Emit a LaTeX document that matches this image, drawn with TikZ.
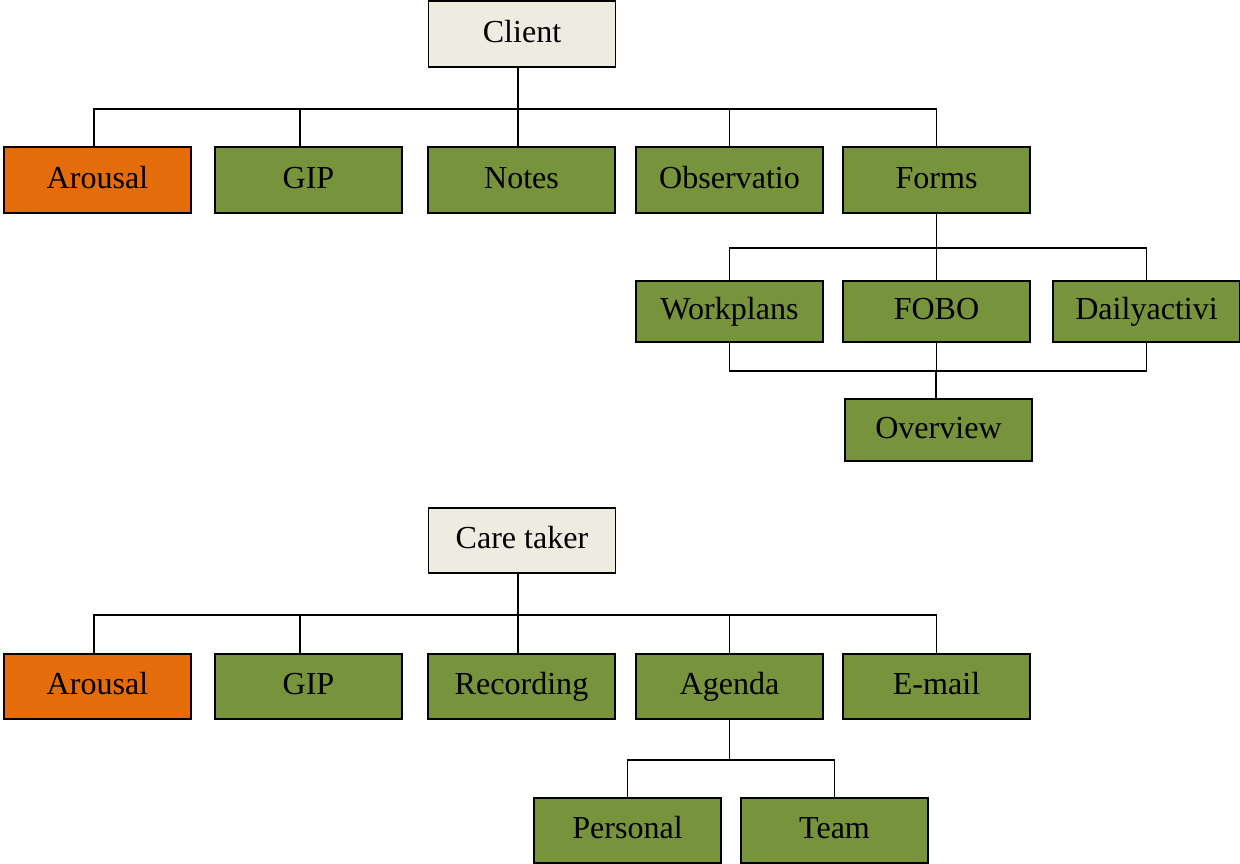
\documentclass[tikz,border=0pt]{standalone}
\usepackage{fontspec}
\setmainfont{Liberation Serif}
\usetikzlibrary{calc}
\definecolor{chgreen}{RGB}{119,147,60}
\definecolor{chorange}{RGB}{228,108,10}
\definecolor{chbeige}{RGB}{238,236,225}
\tikzstyle{chartbox} = [rectangle, minimum width=4.675cm, minimum height=1.63cm, inner sep=0pt, text height=0.56cm, text depth=0.14cm, text centered, draw=black, line width=1.3pt, font=\fontsize{22.8}{27}\selectfont]
\tikzstyle{topic} = [chartbox, fill=chbeige]
\tikzstyle{leaf} = [chartbox, fill=chgreen]
\tikzstyle{hot} = [chartbox, fill=chorange]
\tikzstyle{link} = [line width=1.3pt, line cap=rect, black]

\begin{document}
\begin{tikzpicture}[x=0.025cm, y=-0.025cm]
    \useasboundingbox (0,0) rectangle (1240,863);

    % Client
    \node[topic] (client) at (522,34) {Client};
    \node[hot] (arousal) at (97.5,180) {Arousal};
    \node[leaf] (gip) at (308.5,180) {GIP};
    \node[leaf] (notes) at (521.5,180) {Notes};
    \node[leaf] (obs) at (729.5,180) {Observatio};
    \node[leaf] (forms) at (936.5,180) {Forms};

    % Forms
    \node[leaf, minimum height=1.53cm] (work) at (729.5,311.5) {Workplans};
    \node[leaf, minimum height=1.53cm] (fobo) at (936.5,311.5) {FOBO};
    \node[leaf, minimum height=1.53cm] (daily) at (1146.5,311.5) {Dailyactivi};
    \node[leaf, minimum height=1.55cm] (overview) at (938.5,430) {Overview};

    % Care taker
    \node[topic] (care) at (522,540.5) {Care taker};
    \node[hot] (arousal2) at (97.5,686.5) {Arousal};
    \node[leaf] (gip2) at (308.5,686.5) {GIP};
    \node[leaf] (recording) at (521.5,686.5) {Recording};
    \node[leaf] (agenda) at (729.5,686.5) {Agenda};
    \node[leaf] (email) at (936.5,686.5) {E-mail};

    % Agenda
    \node[leaf] (personal) at (627.5,830.5) {Personal};
    \node[leaf] (team) at (834.5,830.5) {Team};

    % Client lines
    \coordinate (cbus) at (518,109);
    \draw[link] (client.south -| cbus) -- (cbus);
    \draw[link] ([xshift=-0.09cm]arousal.north |- cbus) -- (forms.north |- cbus);
    \foreach \n/\s in {arousal/-0.09, gip/-0.21, notes/-0.09, obs/0, forms/0}
        \draw[link] ([xshift=\s cm]\n.north) -- ([xshift=\s cm]\n.north |- cbus);

    % Forms lines
    \coordinate (fbus) at (936,248);
    \draw[link] (forms.south) -- (forms.south |- fbus);
    \draw[link] (work.north |- fbus) -- (daily.north |- fbus);
    \foreach \n in {work, fobo, daily}
        \draw[link] (\n.north) -- (\n.north |- fbus);
    \coordinate (obus) at (936,371);
    \foreach \n in {work, fobo, daily}
        \draw[link] (\n.south) -- (\n.south |- obus);
    \draw[link] (work.south |- obus) -- (daily.south |- obus);
    \draw[link] (overview.north -| obus) -- (obus);

    % Care taker lines
    \coordinate (tbus) at (518,615);
    \draw[link] (care.south -| tbus) -- (tbus);
    \draw[link] ([xshift=-0.09cm]arousal2.north |- tbus) -- (email.north |- tbus);
    \foreach \n/\s in {arousal2/-0.09, gip2/-0.21, recording/-0.09, agenda/0, email/0}
        \draw[link] ([xshift=\s cm]\n.north) -- ([xshift=\s cm]\n.north |- tbus);

    % Agenda lines
    \coordinate (abus) at (730,760);
    \draw[link] (agenda.south) -- (agenda.south |- abus);
    \draw[link] (personal.north |- abus) -- (team.north |- abus);
    \foreach \n in {personal, team}
        \draw[link] (\n.north) -- (\n.north |- abus);
\end{tikzpicture}
\end{document}
